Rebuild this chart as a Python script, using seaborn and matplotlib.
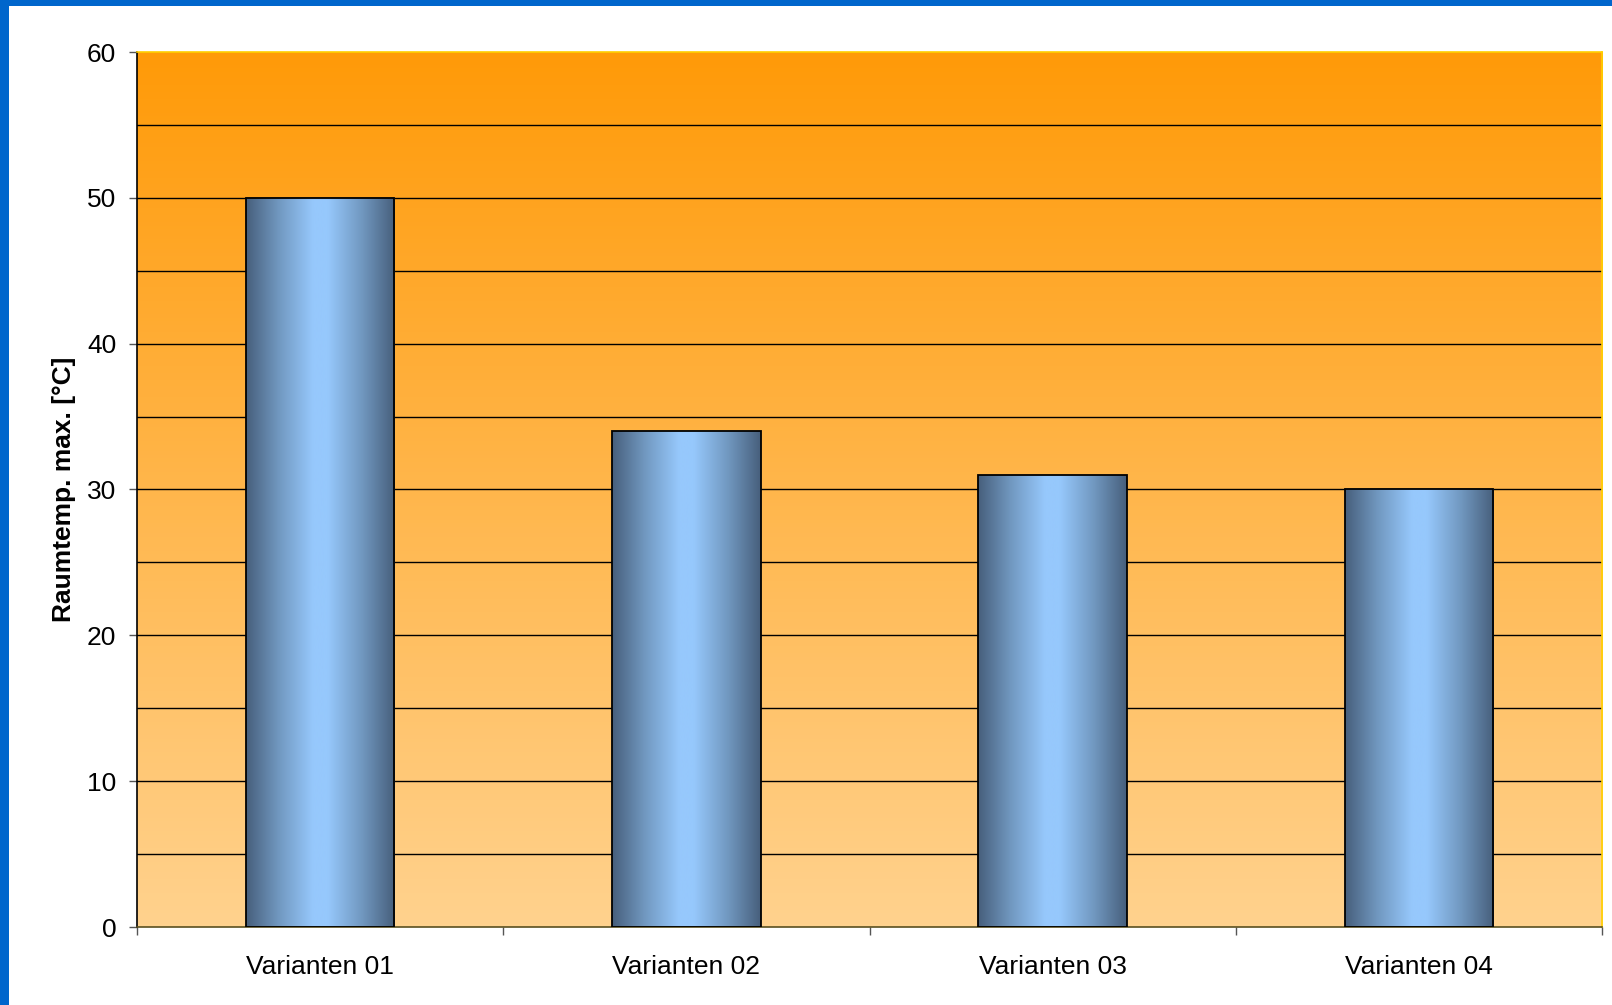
import numpy as np
import pandas as pd
import matplotlib
matplotlib.use("Agg")
import matplotlib.pyplot as plt
import matplotlib.patches as mpatches
from matplotlib.colors import LinearSegmentedColormap
import seaborn as sns

# Data
varianten = ["Varianten 01", "Varianten 02", "Varianten 03", "Varianten 04"]
raumtemp_max = [50, 34, 31, 30]
y_ticks = [0, 10, 20, 30, 40, 50, 60]
y_label = "Raumtemp. max. [°C]"

sns.set_theme(style="white")
plt.rcParams["font.family"] = ["Liberation Sans", "DejaVu Sans"]
plt.rcParams.update({"text.color": "black", "axes.labelcolor": "black",
                     "xtick.labelcolor": "black", "ytick.labelcolor": "black"})

W, H = 1612, 1005
fig = plt.figure(figsize=(W / 100, H / 100), dpi=100)
fig.patch.set_facecolor("white")
ax = fig.add_axes([137 / W, 1 - 927 / H, (1602 - 137) / W, (927 - 52) / H])

df = pd.DataFrame({"Variante": varianten, "Temp": raumtemp_max})
sns.barplot(data=df, x="Variante", y="Temp", ax=ax, width=0.405,
            color="#99CCFF", edgecolor="black", linewidth=1.3, zorder=3)

ax.set_xlim(-0.5, len(varianten) - 0.5)
ax.set_ylim(0, 60)

# Orange background gradient (dark at top, light at bottom)
bg_cmap = LinearSegmentedColormap.from_list("bg", ["#FFD28E", "#FF9A08"])
grad = np.linspace(0, 1, 256).reshape(-1, 1)
ax.imshow(grad, cmap=bg_cmap, aspect="auto", origin="lower",
          extent=[0, 1, 0, 1], transform=ax.transAxes, zorder=0)

# Cylinder-like horizontal gradient inside each bar
pos = [0.0, 0.22, 0.45, 0.55, 0.78, 1.0]
bar_cmap = LinearSegmentedColormap.from_list(
    "bar", list(zip(pos, ["#475F7C", "#7198C0", "#96C8FC", "#96C8FC", "#7198C0", "#475F7C"])))
hgrad = np.linspace(0, 1, 256).reshape(1, -1)
for bar in ax.patches:
    x0, w, h = bar.get_x(), bar.get_width(), bar.get_height()
    im = ax.imshow(hgrad, cmap=bar_cmap, aspect="auto",
                   extent=[x0, x0 + w, 0, h], zorder=2.5)
    im.set_clip_path(bar)
    bar.set_facecolor("none")

ax.set_xlim(-0.5, len(varianten) - 0.5)
ax.set_ylim(0, 60)

# Grid lines every 5 units
for yv in np.arange(5, 60, 5):
    ax.axhline(yv, color="black", linewidth=1.0, zorder=1)

# Axis ticks
ax.set_yticks(y_ticks)
ax.set_yticklabels([str(v) for v in y_ticks])
ax.set_xticks(range(len(varianten)))
ax.set_xticklabels(varianten)
ax.set_xticks(np.arange(-0.5, len(varianten), 1.0), minor=True)
ax.tick_params(axis="x", which="major", length=0, pad=20, labelsize=19)
ax.tick_params(axis="x", which="minor", length=6, width=1, color="#555555",
               direction="out", bottom=True)
ax.tick_params(axis="y", which="major", length=6, width=1, color="#555555",
               direction="out", left=True, pad=9, labelsize=19)
ax.set_xlabel("")
ax.set_ylabel(y_label, fontsize=19, fontweight="bold", labelpad=8)

for side, col in [("left", "black"), ("bottom", "#5A5020"),
                  ("top", "#FFD000"), ("right", "#FFD000")]:
    ax.spines[side].set_visible(True)
    ax.spines[side].set_color(col)
    ax.spines[side].set_linewidth(1.2)

# Blue frame along top and left edge
fig.add_artist(mpatches.Rectangle((0, 1 - 6 / H), 1, 6 / H, transform=fig.transFigure,
                                  facecolor="#0066CC", edgecolor="none"))
fig.add_artist(mpatches.Rectangle((0, 0), 9 / W, 1, transform=fig.transFigure,
                                  facecolor="#0066CC", edgecolor="none"))

fig.savefig("out.png", dpi=100)
